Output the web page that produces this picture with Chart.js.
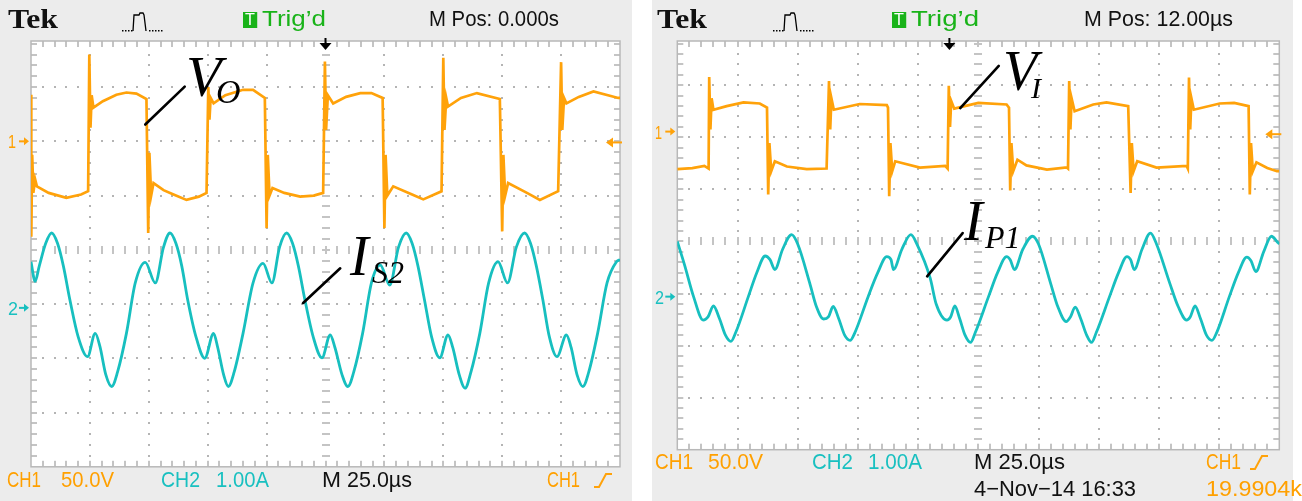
<!DOCTYPE html>
<html>
<head>
<meta charset="utf-8">
<script src="https://cdn.jsdelivr.net/npm/chart.js@4.4.1/dist/chart.umd.min.js"></script>
<style>
  html, body { margin: 0; padding: 0; background: #fff; }
  body { position: relative; width: 1302px; height: 501px; overflow: hidden; }
  canvas { position: absolute; top: 0; }
  #scopeA { left: 0; }
  #scopeB { left: 650px; }
  .txt { position: absolute; white-space: nowrap; line-height: 1; transform-origin: 0 0; }
</style>
</head>
<body>
<canvas id="scopeA" width="632" height="501"></canvas>
<canvas id="scopeB" width="652" height="501"></canvas>
<script>
/* Tek screenshots: x in divisions (25 us/div), y in divisions from screen centre */

// left screen — V_O (CH1) and I_S2 (CH2)
const vo_t = [0.00, 0.005, 0.02, 0.04, 0.07, 0.10, 0.30, 0.60, 0.85, 0.97,
  0.99, 1.01, 1.03, 1.06, 1.22, 1.45, 1.62, 1.79, 1.96,
  1.99, 2.01, 2.04, 2.08, 2.25, 2.42, 2.64, 2.85, 2.98,
  3.01, 3.03, 3.05, 3.10, 3.30, 3.60, 3.77, 3.97,
  4.00, 4.02, 4.05, 4.10, 4.30, 4.57, 4.80, 4.96,
  4.99, 5.01, 5.04, 5.13, 5.35, 5.59, 5.78, 5.97,
  6.00, 6.02, 6.05, 6.15, 6.49, 6.66, 6.97,
  7.00, 7.02, 7.05, 7.08, 7.30, 7.57, 7.96,
  8.00, 8.02, 8.05, 8.10, 8.42, 8.64, 8.95,
  9.00, 9.02, 9.05, 9.09, 9.30, 9.55, 9.97, 10.0];
const vo_v = [2.86, 0.24, 1.75, 1.05, 1.30, 1.17, 1.05, 0.96, 1.02, 1.08,
  3.60, 2.25, 2.85, 2.62, 2.74, 2.86, 2.90, 2.88, 2.78,
  0.31, 1.79, 1.00, 1.23, 1.10, 1.02, 0.92, 0.98, 1.05,
  3.00, 2.40, 2.80, 2.70, 2.85, 2.95, 2.95, 2.80,
  0.40, 1.75, 1.00, 1.14, 1.05, 0.98, 1.00, 1.05,
  3.47, 2.21, 2.85, 2.70, 2.82, 2.89, 2.89, 2.80,
  0.40, 1.75, 1.00, 1.17, 1.01, 0.93, 1.08,
  3.54, 2.21, 2.80, 2.64, 2.80, 2.89, 2.78,
  0.34, 1.75, 1.00, 1.23, 1.05, 0.92, 1.08,
  3.46, 2.21, 2.80, 2.70, 2.82, 2.92, 2.80, 2.80];

const is2_t = [0.00, 0.07, 0.14, 0.25, 0.35, 0.45, 0.55, 0.66, 0.80, 0.96, 1.09, 1.17, 1.27, 1.37, 1.47, 1.62, 1.77, 1.94, 2.11, 2.25,
  2.36, 2.46, 2.56, 2.66, 2.80, 2.95, 3.10, 3.17, 3.27, 3.35, 3.45, 3.60, 3.77, 3.94, 4.09, 4.22,
  4.34, 4.44, 4.54, 4.65, 4.79, 4.94, 5.08, 5.16, 5.28, 5.38, 5.48, 5.63, 5.78, 5.93, 6.09, 6.24,
  6.37, 6.47, 6.57, 6.68, 6.80, 6.94, 7.08, 7.16, 7.27, 7.37, 7.47, 7.62, 7.77, 7.93, 8.09, 8.24,
  8.38, 8.48, 8.58, 8.69, 8.80, 8.93, 9.09, 9.17, 9.27, 9.37, 9.47, 9.62, 9.78, 9.94, 10.0];
const is2_v = [-0.22, -0.58, -0.30, 0.12, 0.31, 0.12, -0.30, -0.92, -1.60, -1.97, -1.54, -1.78, -2.30, -2.52, -2.25, -1.54, -0.61, -0.23, -0.61, 0.05,
  0.31, 0.12, -0.30, -0.92, -1.60, -2.00, -1.54, -1.80, -2.30, -2.52, -2.25, -1.54, -0.61, -0.25, -0.61, 0.05,
  0.31, 0.12, -0.30, -0.92, -1.60, -1.99, -1.57, -1.80, -2.30, -2.52, -2.25, -1.54, -0.61, -0.28, -0.65, 0.05,
  0.31, 0.12, -0.30, -0.92, -1.60, -1.99, -1.57, -1.80, -2.30, -2.55, -2.25, -1.54, -0.61, -0.22, -0.61, 0.05,
  0.31, 0.12, -0.30, -0.92, -1.60, -1.97, -1.57, -1.80, -2.30, -2.52, -2.25, -1.54, -0.61, -0.22, -0.18];

// right screen — V_I (CH1) and I_P1 (CH2)
const vi_t = [0.00, 0.25, 0.45, 0.52,
  0.53, 0.55, 0.57, 0.60, 0.82, 1.10, 1.37, 1.49,
  1.51, 1.53, 1.56, 1.62, 1.82, 2.15, 2.48,
  2.52, 2.54, 2.56, 2.60, 3.03, 3.48, 3.50,
  3.52, 3.54, 3.57, 3.62, 4.03, 4.45, 4.49,
  4.51, 4.53, 4.55, 4.60, 5.00, 5.47, 5.51,
  5.53, 5.55, 5.58, 5.65, 5.80, 6.14, 6.47, 6.49,
  6.51, 6.53, 6.55, 6.60, 6.91, 7.13, 7.49,
  7.53, 7.55, 7.58, 7.64, 7.96, 8.46, 8.48,
  8.50, 8.52, 8.54, 8.58, 9.01, 9.25, 9.49,
  9.51, 9.53, 9.56, 9.62, 9.80, 9.96, 10.0];
const vi_v = [1.39, 1.41, 1.45, 1.40,
  3.16, 2.15, 2.75, 2.53, 2.60, 2.67, 2.65, 2.57,
  0.90, 1.89, 1.35, 1.54, 1.44, 1.39, 1.40,
  3.08, 2.15, 2.75, 2.53, 2.64, 2.62, 2.57,
  0.87, 1.89, 1.35, 1.54, 1.42, 1.45, 1.40,
  2.99, 2.20, 2.70, 2.55, 2.66, 2.63, 2.57,
  0.98, 1.89, 1.35, 1.57, 1.46, 1.38, 1.42, 1.40,
  3.08, 2.15, 2.75, 2.50, 2.63, 2.67, 2.60,
  0.93, 1.89, 1.35, 1.54, 1.42, 1.45, 1.40,
  3.15, 2.15, 2.75, 2.53, 2.65, 2.66, 2.60,
  0.90, 1.89, 1.35, 1.52, 1.41, 1.35, 1.35];

const ip1_t = [0.00, 0.12, 0.27, 0.43, 0.51, 0.60, 0.70, 0.80, 0.89, 0.97, 1.18, 1.32, 1.46, 1.54, 1.62, 1.75,
  1.90, 2.00, 2.20, 2.31, 2.43, 2.51, 2.59, 2.68, 2.78, 2.87, 2.95, 3.17, 3.33, 3.48, 3.55, 3.59, 3.73,
  3.88, 3.98, 4.20, 4.30, 4.48, 4.54, 4.61, 4.69, 4.78, 4.87, 4.95, 5.17, 5.32, 5.47, 5.53, 5.60, 5.74,
  5.90, 6.00, 6.20, 6.32, 6.46, 6.53, 6.61, 6.70, 6.80, 6.88, 6.96, 7.18, 7.33, 7.47, 7.53, 7.59, 7.72,
  7.86, 7.96, 8.18, 8.32, 8.46, 8.52, 8.60, 8.69, 8.79, 8.88, 8.96, 9.17, 9.32, 9.46, 9.53, 9.61, 9.74,
  9.87, 9.96, 10.0];
const ip1_v = [0.00, -0.45, -1.06, -1.51, -1.45, -1.24, -1.48, -1.80, -1.92, -1.75, -1.06, -0.60, -0.28, -0.35, -0.54, -0.15,
  0.13, -0.05, -0.80, -1.25, -1.49, -1.45, -1.25, -1.48, -1.80, -1.90, -1.75, -1.06, -0.60, -0.29, -0.35, -0.54, -0.15,
  0.13, -0.05, -0.70, -1.20, -1.51, -1.45, -1.24, -1.48, -1.80, -1.94, -1.75, -1.06, -0.60, -0.29, -0.35, -0.54, -0.15,
  0.10, -0.05, -0.80, -1.25, -1.54, -1.45, -1.26, -1.48, -1.80, -1.94, -1.75, -1.06, -0.60, -0.29, -0.35, -0.54, -0.15,
  0.16, -0.05, -0.80, -1.25, -1.51, -1.45, -1.24, -1.48, -1.80, -1.90, -1.75, -1.06, -0.60, -0.30, -0.37, -0.58, -0.20,
  0.10, 0.00, -0.05];

const ORANGE = '#ffa20a';
const CYAN   = '#17bfbf';
const PANEL  = '#ececec';

const pts = (t, v) => t.map((x, i) => ({ x, y: v[i] }));

/* graticule, markers and leader lines, all placed through the chart scales */
const scopeScreen = {
  id: 'scopeScreen',
  beforeDraw(chart, args, o) {
    const { ctx, chartArea: a, scales: { x, y } } = chart;
    const dot = (px, py) => ctx.fillRect(Math.round(px) - 1, Math.round(py) - 1, 2, 2);
    ctx.save();
    ctx.fillStyle = PANEL;
    ctx.fillRect(o.panel[0], 0, o.panel[1] - o.panel[0], chart.height);
    ctx.fillStyle = '#fff';
    ctx.fillRect(a.left, a.top, a.right - a.left, a.bottom - a.top);

    ctx.fillStyle = '#b4b4b4';
    for (let i = 1; i < 10; i++) {
      if (i === 5) continue;
      const px = x.getPixelForValue(i);
      for (let k = -19; k <= 19; k++) {
        const py = y.getPixelForValue(k / 5);
        if (py > a.top + 2) dot(px, py);
      }
    }
    for (let j = -3; j <= 3; j++) {
      if (j === 0) continue;
      const py = y.getPixelForValue(j);
      for (let k = 1; k < 50; k++) dot(x.getPixelForValue(k / 5), py);
    }
    // centre axes with minor ticks
    ctx.fillStyle = '#c4c4c4';
    const cx = Math.round(x.getPixelForValue(5));
    const cy = Math.round(y.getPixelForValue(0));
    for (let k = -19; k <= 19; k++) {
      const py = Math.round(y.getPixelForValue(k / 5));
      if (py > a.top + 2) ctx.fillRect(cx - 4, py - 1, 8, 2);
    }
    for (let k = 1; k < 50; k++) {
      const px = Math.round(x.getPixelForValue(k / 5));
      ctx.fillRect(px - 1, cy - 4, 2, 8);
    }
    // border ticks
    for (let k = -19; k <= 19; k++) {
      const py = Math.round(y.getPixelForValue(k / 5));
      if (py <= a.top + 2) continue;
      ctx.fillRect(a.left, py - 1, 6, 2);
      ctx.fillRect(a.right - 6, py - 1, 6, 2);
    }
    for (let k = 1; k < 50; k++) {
      const px = Math.round(x.getPixelForValue(k / 5));
      ctx.fillRect(px - 1, a.top, 2, 6);
      ctx.fillRect(px - 1, a.bottom - 6, 2, 6);
    }
    ctx.strokeStyle = '#b8b8b8';
    ctx.lineWidth = 1.5;
    ctx.strokeRect(a.left, a.top, a.right - a.left, a.bottom - a.top);
    ctx.restore();
  },
  afterDraw(chart, args, o) {
    const { ctx, chartArea: a, scales: { x, y } } = chart;
    ctx.save();
    // trigger position arrow
    const tx = x.getPixelForValue(o.trigPos);
    ctx.fillStyle = '#000';
    ctx.fillRect(tx - 1, a.top - 3, 2, 6);
    ctx.beginPath();
    ctx.moveTo(tx - 6, a.top + 2); ctx.lineTo(tx + 6, a.top + 2); ctx.lineTo(tx, a.top + 9);
    ctx.closePath(); ctx.fill();
    // trigger level arrow at the right edge
    const ty = y.getPixelForValue(o.trigLevel);
    ctx.fillStyle = ORANGE; ctx.strokeStyle = ORANGE; ctx.lineWidth = 2;
    ctx.beginPath(); ctx.moveTo(a.right - 9, ty); ctx.lineTo(a.right + 2, ty); ctx.stroke();
    ctx.beginPath(); ctx.moveTo(a.right - 14, ty); ctx.lineTo(a.right - 7, ty - 5); ctx.lineTo(a.right - 7, ty + 5);
    ctx.closePath(); ctx.fill();
    // channel ground markers
    o.grounds.forEach(([lvl, col]) => {
      const gy = y.getPixelForValue(lvl);
      ctx.fillStyle = col; ctx.strokeStyle = col;
      ctx.beginPath(); ctx.moveTo(a.left - 12, gy); ctx.lineTo(a.left - 5, gy); ctx.stroke();
      ctx.beginPath(); ctx.moveTo(a.left - 2, gy); ctx.lineTo(a.left - 7, gy - 4); ctx.lineTo(a.left - 7, gy + 4);
      ctx.closePath(); ctx.fill();
    });
    // leader lines to the trace labels
    ctx.strokeStyle = '#000'; ctx.lineWidth = 2.6; ctx.lineCap = 'round';
    o.leaders.forEach(([x1, y1, x2, y2]) => {
      ctx.beginPath();
      ctx.moveTo(x.getPixelForValue(x1), y.getPixelForValue(y1));
      ctx.lineTo(x.getPixelForValue(x2), y.getPixelForValue(y2));
      ctx.stroke();
    });
    // acquisition pulse icon
    const [ix, iy] = o.icon;
    ctx.fillStyle = '#000';
    for (let k = 0; k < 4; k++) ctx.fillRect(ix + k * 3, iy, 1.5, 1.5);
    for (let k = 0; k < 5; k++) ctx.fillRect(ix + 27 + k * 3, iy, 1.5, 1.5);
    ctx.strokeStyle = '#000'; ctx.lineWidth = 1.3; ctx.lineCap = 'butt';
    ctx.beginPath();
    ctx.moveTo(ix + 11, iy + 1); ctx.lineTo(ix + 12, iy - 15); ctx.lineTo(ix + 17, iy - 15);
    ctx.lineTo(ix + 18, iy - 17); ctx.lineTo(ix + 21, iy - 17); ctx.lineTo(ix + 22, iy - 15);
    ctx.lineTo(ix + 24, iy + 1);
    ctx.stroke();
    // trigger slope icon in the footer
    const [sx, sy] = o.slope;
    ctx.strokeStyle = ORANGE; ctx.lineWidth = 2;
    ctx.beginPath();
    ctx.moveTo(sx, sy + 13); ctx.lineTo(sx + 5, sy + 13); ctx.lineTo(sx + 12, sy); ctx.lineTo(sx + 18, sy);
    ctx.stroke();
    ctx.restore();
  }
};

function scope(id, series, pad, o) {
  return new Chart(document.getElementById(id), {
    type: 'line',
    data: {
      datasets: series.map(([t, v, col, w, smooth]) => ({
        data: pts(t, v),
        borderColor: col,
        borderWidth: w,
        pointRadius: 0,
        tension: 0,
        cubicInterpolationMode: smooth ? 'monotone' : 'default'
      }))
    },
    options: {
      responsive: false,
      animation: false,
      devicePixelRatio: 1,
      layout: { padding: pad },
      scales: {
        x: { type: 'linear', min: 0, max: 10, display: false },
        y: { type: 'linear', min: -4, max: 3.85, display: false }
      },
      plugins: { legend: { display: false }, tooltip: { enabled: false }, scopeScreen: o }
    },
    plugins: [scopeScreen]
  });
}

scope('scopeA',
  [[vo_t, vo_v, ORANGE, 2.7, false], [is2_t, is2_v, CYAN, 2.8, true]],
  { left: 31, right: 12, top: 41, bottom: 34.2 },
  { panel: [0, 632], trigPos: 5, trigLevel: 1.98, grounds: [[2.0, ORANGE], [-1.07, CYAN]],
    leaders: [[1.94, 2.31, 2.61, 3.01], [4.62, -0.98, 5.25, -0.34]],
    icon: [122, 30], slope: [594, 474] });

scope('scopeB',
  [[vi_t, vi_v, ORANGE, 2.7, false], [ip1_t, ip1_v, CYAN, 2.8, true]],
  { left: 27.3, right: 22.7, top: 41, bottom: 51.3 },
  { panel: [2, 643], trigPos: 4.52, trigLevel: 2.06, grounds: [[2.11, ORANGE], [-1.06, CYAN]],
    leaders: [[4.7, 2.56, 5.34, 3.37], [4.15, -0.67, 4.74, 0.16]],
    icon: [123, 30], slope: [600, 456] });

/* texts */
const SANS = '"Liberation Sans", Arial, sans-serif';
const SERIF = '"Liberation Serif", "Times New Roman", serif';
function put(txt, x, base, size, color, opt = {}) {
  const s = document.createElement('span');
  s.className = 'txt';
  s.textContent = txt;
  const serif = !!opt.serif;
  s.style.fontFamily = serif ? SERIF : SANS;
  s.style.fontSize = size + 'px';
  s.style.color = color;
  if (opt.bold) s.style.fontWeight = 'bold';
  if (opt.italic) s.style.fontStyle = 'italic';
  if (opt.bg) { s.style.background = opt.bg; s.style.padding = '0 2px'; }
  s.style.left = x + 'px';
  s.style.top = (base - (serif ? 0.8375 : 0.8465) * size) + 'px';
  document.body.appendChild(s);
  if (opt.w) {
    const w = s.getBoundingClientRect().width;
    s.style.transform = 'scaleX(' + (opt.w / w).toFixed(3) + ')';
  }
  return s;
}
const GREEN = '#19b319';
const OTXT = '#ffa000';
const CTXT = '#19c0c0';

// left header / footer
put('Tek', 8, 28, 28, '#111', { serif: true, bold: true, w: 50 });
put('T', 243, 26, 16, '#fff', { bg: GREEN, w: 14 });
put('Trig\u2019d', 262, 27, 22, GREEN, { w: 64 });
put('M Pos: 0.000s', 429, 27, 22, '#111', { w: 130 });
put('CH1', 7, 488, 22, OTXT, { w: 34 });
put('50.0V', 61, 488, 22, OTXT, { w: 53 });
put('CH2', 161, 488, 22, CTXT, { w: 39 });
put('1.00A', 216, 488, 22, CTXT, { w: 53 });
put('M', 322, 488, 22, '#111', { w: 19 });
put('25.0\u00b5s', 347, 488, 22, '#111', { w: 65 });
put('CH1', 547, 488, 22, OTXT, { w: 33 });
put('1', 8, 148, 18, OTXT, { w: 8 });
put('2', 8, 315, 18, CTXT, { w: 10 });

// right header / footer
put('Tek', 657, 28, 28, '#111', { serif: true, bold: true, w: 50 });
put('T', 892, 26, 16, '#fff', { bg: GREEN, w: 14 });
put('Trig\u2019d', 911, 27, 22, GREEN, { w: 68 });
put('M Pos: 12.00\u00b5s', 1084, 27, 22, '#111', { w: 149 });
put('CH1', 655, 470, 22, OTXT, { w: 38 });
put('50.0V', 708, 470, 22, OTXT, { w: 55 });
put('CH2', 812, 470, 22, CTXT, { w: 41 });
put('1.00A', 868, 470, 22, CTXT, { w: 54 });
put('M 25.0\u00b5s', 974, 470, 22, '#111', { w: 91 });
put('CH1', 1206, 470, 22, OTXT, { w: 35 });
put('4\u2212Nov\u221214 16:33', 974, 497, 22, '#111', { w: 162 });
put('19.9904k', 1206, 497, 22, OTXT, { w: 96 });
put('1', 655, 139, 18, OTXT, { w: 7 });
put('2', 655, 304, 18, CTXT, { w: 9 });

// trace labels
put('V', 186, 97, 58, '#000', { serif: true, italic: true });
put('O', 216, 103, 34, '#000', { serif: true, italic: true });
put('I', 350, 275, 56, '#000', { serif: true, italic: true });
put('S2', 372, 283, 32, '#000', { serif: true, italic: true });
put('V', 1003, 90, 56, '#000', { serif: true, italic: true });
put('I', 1031, 98, 30, '#000', { serif: true, italic: true });
put('I', 964, 240, 56, '#000', { serif: true, italic: true });
put('P1', 985, 248, 32, '#000', { serif: true, italic: true });
</script>
</body>
</html>
